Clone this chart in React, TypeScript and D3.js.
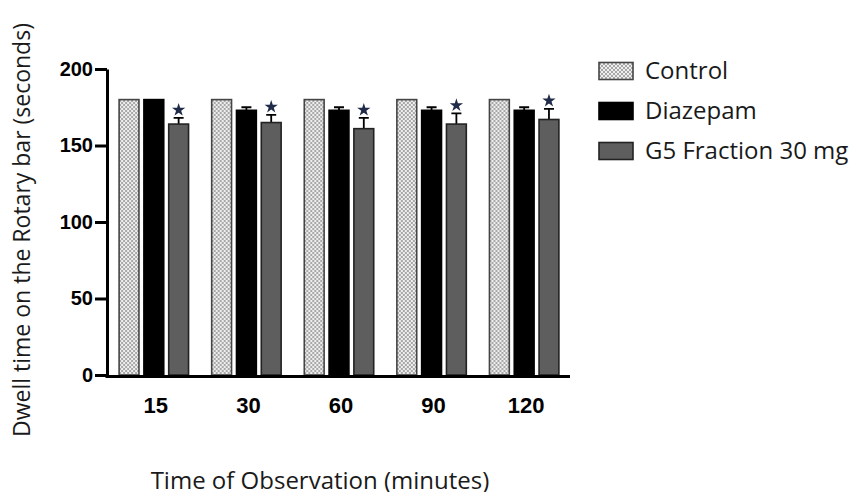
import React, { useRef, useEffect } from 'react';
import * as d3 from 'd3';

const times = ['15', '30', '60', '90', '120'];
const groups = ['Control', 'Diazepam', 'G5 Fraction 30 mg'];
const controlVals = [180, 180, 180, 180, 180];
const diazepamVals = [180, 173, 173, 173, 173];
const diazepamErr = [0, 2, 2, 2, 2];
const g5Vals = [164, 165, 161, 164, 167];
const g5Err = [4, 5, 7, 7, 7];
const g5Signif = [true, true, true, true, true];
const yTicks = [0, 50, 100, 150, 200];

function App() {
  const svgRef = useRef<SVGSVGElement>(null);

  useEffect(() => {
    const w = 860;
    const h = 496;
    const svg = d3.select(svgRef.current)
      .attr('width', w)
      .attr('height', h);
    svg.selectAll('*').remove();

    // pattern for control bars
    const defs = svg.append('defs');
    const pat = defs.append('pattern')
      .attr('id', 'checker')
      .attr('width', 4)
      .attr('height', 4)
      .attr('patternUnits', 'userSpaceOnUse');
    pat.append('rect').attr('width', 4).attr('height', 4).attr('fill', '#eeeeee');
    pat.append('rect').attr('width', 2).attr('height', 2).attr('fill', '#a8a8a8');
    pat.append('rect').attr('x', 2).attr('y', 2).attr('width', 2).attr('height', 2).attr('fill', '#a8a8a8');

    const fills = ['url(#checker)', '#000', '#5e5e5e'];
    const strokes = ['#444', '#000', '#222'];

    // scales
    const x0 = d3.scaleBand()
      .domain(times)
      .range([108, 570])
      .paddingInner(0.25)
      .paddingOuter(0.12);

    const x1 = d3.scaleBand()
      .domain(groups)
      .range([0, x0.bandwidth()])
      .paddingInner(0.2);

    const y = d3.scaleLinear()
      .domain([0, 200])
      .range([375, 69]);

    const rows = times.map((t, i) => ({
      t,
      bars: [
        { g: groups[0], v: controlVals[i], e: 0, s: false },
        { g: groups[1], v: diazepamVals[i], e: diazepamErr[i], s: false },
        { g: groups[2], v: g5Vals[i], e: g5Err[i], s: g5Signif[i] },
      ],
    }));

    const gGroup = svg.selectAll('.grp')
      .data(rows)
      .join('g')
      .attr('class', 'grp')
      .attr('transform', d => `translate(${x0(d.t)},0)`);

    // error bars
    gGroup.selectAll('.err')
      .data(d => d.bars.filter(b => b.e > 0))
      .join('path')
      .attr('class', 'err')
      .attr('d', b => {
        const cx = (x1(b.g) as number) + x1.bandwidth() / 2;
        return `M${cx},${y(b.v)}V${y(b.v + b.e)}M${cx - 5},${y(b.v + b.e)}H${cx + 5}`;
      })
      .attr('stroke', '#000')
      .attr('stroke-width', 1.8)
      .attr('fill', 'none');

    gGroup.selectAll('.bar')
      .data(d => d.bars)
      .join('rect')
      .attr('class', 'bar')
      .attr('x', b => x1(b.g) as number)
      .attr('y', b => y(b.v))
      .attr('width', x1.bandwidth())
      .attr('height', b => y(0) - y(b.v))
      .attr('fill', (b, i) => fills[i])
      .attr('stroke', (b, i) => strokes[i])
      .attr('stroke-width', 1.6);

    // significance stars
    const star = d3.symbol().type(d3.symbolStar).size(55);
    gGroup.selectAll('.star')
      .data(d => d.bars.filter(b => b.s))
      .join('path')
      .attr('class', 'star')
      .attr('d', star)
      .attr('transform', b => `translate(${(x1(b.g) as number) + x1.bandwidth() / 2},${y(b.v + b.e) - 8})`)
      .attr('fill', '#1f2b48');

    // axes
    const yAxis = d3.axisLeft(y)
      .tickValues(yTicks)
      .tickSize(12)
      .tickSizeOuter(0);

    const ya = svg.append('g')
      .attr('transform', 'translate(107,0)')
      .call(yAxis);
    ya.select('.domain').attr('stroke', '#000').attr('stroke-width', 3);
    ya.selectAll('.tick line').attr('stroke', '#000').attr('stroke-width', 3);
    ya.selectAll('.tick text')
      .attr('font-family', 'Liberation Sans, Arial, sans-serif')
      .attr('font-weight', 'bold')
      .attr('font-size', 20)
      .attr('fill', '#000')
      .attr('x', -14);

    svg.append('line')
      .attr('x1', 105.5)
      .attr('x2', 570)
      .attr('y1', 376.5)
      .attr('y2', 376.5)
      .attr('stroke', '#000')
      .attr('stroke-width', 3);

    svg.append('g')
      .selectAll('text')
      .data(times)
      .join('text')
      .attr('x', t => (x0(t) as number) + x0.bandwidth() / 2 + 2)
      .attr('y', 413)
      .attr('text-anchor', 'middle')
      .attr('font-family', 'Liberation Sans, Arial, sans-serif')
      .attr('font-weight', 'bold')
      .attr('font-size', 22)
      .attr('fill', '#000')
      .text(t => t);

    // titles
    svg.append('text')
      .attr('x', 320)
      .attr('y', 489)
      .attr('text-anchor', 'middle')
      .attr('font-family', 'Open Sans, sans-serif')
      .attr('font-size', 24)
      .attr('fill', '#1a1a1a')
      .text('Time of Observation (minutes)');

    svg.append('text')
      .attr('transform', 'translate(30,230) rotate(-90)')
      .attr('text-anchor', 'middle')
      .attr('font-family', 'Open Sans, sans-serif')
      .attr('font-size', 23)
      .attr('fill', '#1a1a1a')
      .text('Dwell time on the Rotary bar (seconds)');

    // legend
    const legendY = d3.scalePoint()
      .domain(groups)
      .range([71, 151]);

    const lg = svg.append('g')
      .selectAll('g')
      .data(groups)
      .join('g')
      .attr('transform', g => `translate(599,${legendY(g)})`);

    lg.append('rect')
      .attr('x', 0)
      .attr('y', -8.5)
      .attr('width', 34)
      .attr('height', 17)
      .attr('fill', (g, i) => fills[i])
      .attr('stroke', (g, i) => strokes[i])
      .attr('stroke-width', 1.6);

    lg.append('text')
      .attr('x', 46)
      .attr('y', 8)
      .attr('font-family', 'Open Sans, sans-serif')
      .attr('font-size', 24)
      .attr('fill', '#1a1a1a')
      .text(g => g);
  }, []);

  return (
    <div style={{ margin: -8 }}>
      <svg ref={svgRef}></svg>
    </div>
  );
}

export default App;
